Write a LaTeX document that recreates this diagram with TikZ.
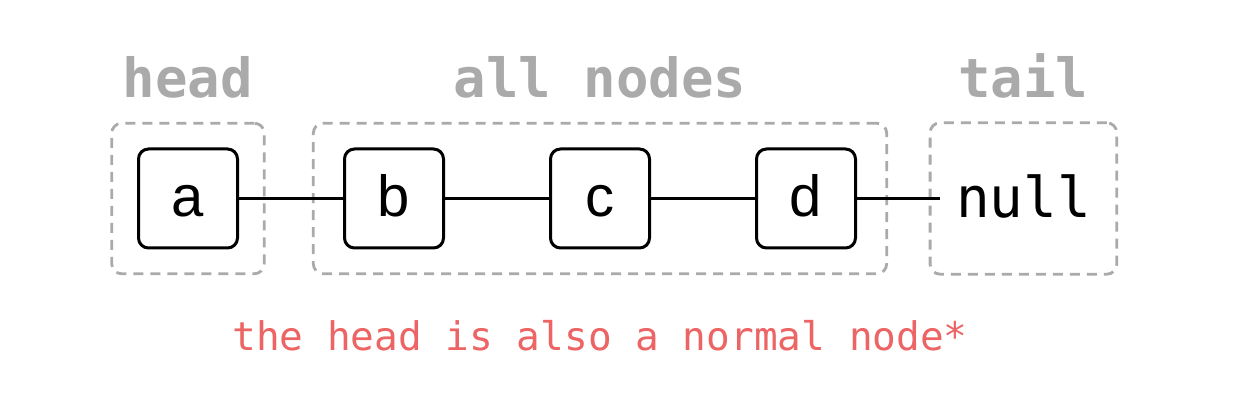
\documentclass[tikz,border=0pt]{standalone}
\usepackage{fontspec}
\setmainfont{Liberation Sans}
\setmonofont{DejaVu Sans Mono}
\usetikzlibrary{positioning,fit}
\definecolor{groupgray}{RGB}{170,170,170}
\definecolor{notered}{RGB}{236,100,100}

\begin{document}
\begin{tikzpicture}[
        x=0.5pt, y=-0.5pt,
        listnode/.style={rectangle, rounded corners=5pt, draw=black, line width=1.5pt, minimum size=49.5pt, inner sep=0pt, text height=18.5pt, text depth=0pt, font=\fontsize{29pt}{29pt}\selectfont},
        nulltext/.style={inner xsep=8pt, inner ysep=0pt, text height=19pt, text depth=0pt, font=\ttfamily\fontsize{28pt}{28pt}\selectfont},
        groupbox/.style={draw=groupgray, dash pattern=on 5pt off 3.5pt, line width=1.4pt, rounded corners=5pt, inner ysep=12.15pt},
        grouplabel/.style={anchor=base, text=groupgray, font=\ttfamily\bfseries\fontsize{27pt}{27pt}\selectfont},
        link/.style={line width=1.5pt},
        node distance=52pt,
]
        \useasboundingbox (0,0) rectangle (1243,410);

        \node[listnode] (a) at (188,198.5) {a};
        \node[listnode] (b) [right=of a] {b};
        \node[listnode] (c) [right=of b] {c};
        \node[listnode] (d) [right=of c] {d};
        \node[nulltext] (null) [right=41.3pt of d] {null};

        \node[groupbox, fit=(a), inner xsep=12.65pt] (headgroup) {};
        \node[groupbox, fit=(b) (d), inner xsep=14.85pt] (allgroup) {};
        \node[groupbox, fit=(null), inner xsep=4.75pt, inner ysep=28.15pt] (tailgroup) {};

        \node[grouplabel] (headlabel) at ([yshift=12pt]headgroup.north) {head};
        \node[grouplabel] (alllabel) at ([yshift=12pt]allgroup.north) {all nodes};
        \node[grouplabel] (taillabel) at ([yshift=12pt]tailgroup.north) {tail};

        \node[anchor=base, text=notered, font=\ttfamily\fontsize{19.7pt}{19.7pt}\selectfont] (note) at ([yshift=-37.5pt]allgroup.south) {the head is also a normal node*};

        \draw[link] (a.east) -- (b.west);
        \draw[link] (b.east) -- (c.west);
        \draw[link] (c.east) -- (d.west);
        \draw[link] (d.east) -- (null.west);
\end{tikzpicture}
\end{document}
